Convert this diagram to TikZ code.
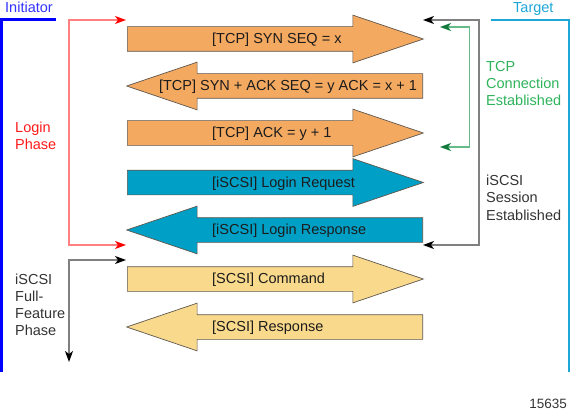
\documentclass[tikz,border=0pt]{standalone}
\usepackage{fontspec}
\setmainfont{Liberation Sans}
\usetikzlibrary{positioning}
\usetikzlibrary{arrows.meta}
\usetikzlibrary{shapes.arrows}

\definecolor{tcporange}{HTML}{F4A961}
\definecolor{iscsiblue}{HTML}{00A0C6}
\definecolor{scsiyellow}{HTML}{F9D98C}
\definecolor{msgedge}{HTML}{5E574E}
\definecolor{initblue}{HTML}{0000FF}
\definecolor{targetcyan}{HTML}{1EA6D6}
\definecolor{loginline}{HTML}{FF8080}
\definecolor{loginred}{HTML}{FF1A1A}
\definecolor{tcpline}{HTML}{66BB88}
\definecolor{tcptip}{HTML}{127A3A}
\definecolor{tcptext}{HTML}{2DB35A}
\definecolor{railgray}{HTML}{808080}
\definecolor{labelgray}{HTML}{333333}
\definecolor{msgink}{HTML}{1C1C1C}

\tikzset{msg/.style={single arrow,draw=msgedge,line width=0.7pt,
inner sep=12pt,minimum height=296pt,
single arrow head extend=11.5pt,single arrow tip angle=37.4}}
\tikzset{msgright/.style={msg,anchor=tail}}
\tikzset{msgleft/.style={msg,shape border rotate=180,anchor=tail}}
\tikzset{msgtext/.style={anchor=base west,inner sep=0pt,text=msgink,
font=\fontsize{14.5}{17.2}\selectfont}}
\tikzset{sidetext/.style={anchor=north west,inner sep=0pt,align=left,
font=\fontsize{14.5}{17.2}\selectfont}}
\tikzset{rail/.style={line width=1.3pt}}
\tikzset{railtip/.tip={Stealth[length=11pt,width=8pt,inset=3pt]}}

\begin{document}
\begin{tikzpicture}[x=1pt,y=-1pt]
\useasboundingbox (0,0) rectangle (571,412);

    % message arrows
    \node[msgright,fill=tcporange] (synA) at (127,39) {};
    \node[msgleft,fill=tcporange] (synAck) at (423,86) {};
    \node[msgright,fill=tcporange] (ackA) at (127,133) {};
    \node[msgright,fill=iscsiblue] (loginReq) at (127,182.5) {};
    \node[msgleft,fill=iscsiblue] (loginResp) at (423,230) {};
    \node[msgright,fill=scsiyellow] (scsiCmd) at (127,279) {};
    \node[msgleft,fill=scsiyellow] (scsiResp) at (423,327) {};

    \node[msgtext] (synAtext) at (212,43.5) {[TCP] SYN SEQ = x};
    \node[msgtext,anchor=base] (synAcktext) at (288,90.5) {[TCP] SYN + ACK SEQ = y ACK = x + 1};
    \node[msgtext] (ackAtext) at (212,137.5) {[TCP] ACK = y + 1};
    \node[msgtext] (loginReqtext) at (212,187) {[iSCSI] Login Request};
    \node[msgtext] (loginResptext) at (212,234.5) {[iSCSI] Login Response};
    \node[msgtext] (scsiCmdtext) at (212,283.5) {[SCSI] Command};
    \node[msgtext] (scsiResptext) at (212,331.5) {[SCSI] Response};

    % initiator and target
    \node[sidetext,anchor=base west,text=initblue!80!white] (initiator) at (5,13) {Initiator};
    \node[sidetext,anchor=base west,text=targetcyan] (target) at (513,13) {Target};
    \coordinate (initTop) at (56,20);
    \coordinate (targetTop) at (491,20);
    \draw[initblue,line width=3pt] (initTop) -- (1.5,20) -- (1.5,372);
    \draw[targetcyan,line width=2.2pt] (targetTop) -- (569,20) -- (569,372);

    % phases
    \node[sidetext,text=loginred] (loginPhase) at (15,121.7) {Login\\Phase};
    \node[sidetext,text=labelgray] (ffPhase) at (15,273.3) {iSCSI\\Full-\\Feature\\Phase};
    \node[sidetext,text=tcptext] (tcpConn) at (486,60.7) {TCP\\Connection\\Established};
    \node[sidetext,text=labelgray] (sessEst) at (486,175) {iSCSI\\Session\\Established};

    \coordinate (loginA) at (126,20);
    \coordinate (loginB) at (126,245);
    \coordinate (ffA) at (126,260);
    \coordinate (ffB) at (69,362);
    \coordinate (sessA) at (423,20);
    \coordinate (sessB) at (423,245);
    \coordinate (tcpA) at (440,27);
    \coordinate (tcpB) at (440,147);

    \draw[rail,loginline,{railtip[red]}-{railtip[red]}] (loginA) -- ++(-57,0) |- (loginB);
    \draw[rail,railgray,{railtip[black]}-{railtip[black]}] (ffA) -| (ffB);
    \draw[rail,railgray,{railtip[black]}-{railtip[black]}] (sessA) -- ++(56,0) |- (sessB);
    \draw[rail,tcpline,{railtip[tcptip]}-{railtip[tcptip]}] (tcpA) -- ++(29.5,0) |- (tcpB);

    \node[anchor=base east,inner sep=0pt,text=labelgray,font=\fontsize{13.5}{16}\selectfont] (figNum) at (567,408) {15635};

\end{tikzpicture}
\end{document}
